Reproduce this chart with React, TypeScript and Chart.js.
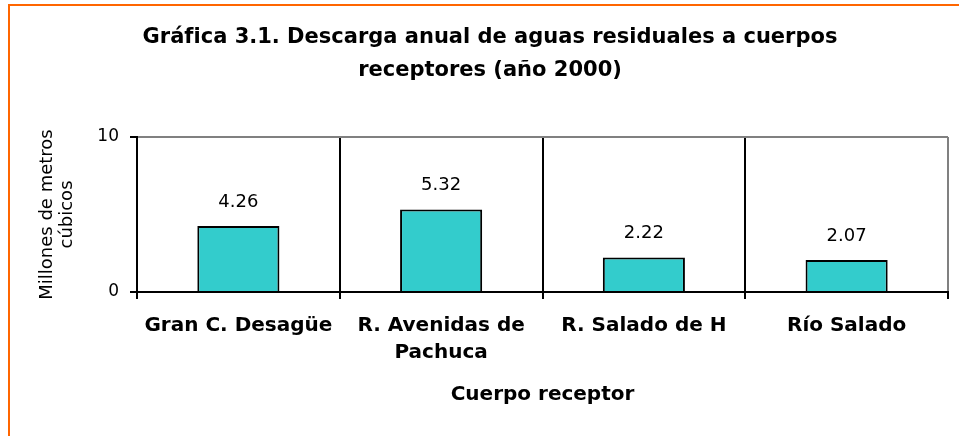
import React, { useEffect, useRef } from "react";
import { Chart, registerables } from "chart.js";

Chart.register(...registerables);

// U+200C keeps "f" and "i" as separate glyphs (no ligature), as in the reference
const TITLE = ["Gráf\u200Cica 3.1. Descarga anual de aguas residuales a cuerpos", "receptores (año 2000)"];
const CATEGORIES: (string | string[])[] = ["Gran C. Desagüe", ["R. Avenidas de", "Pachuca"], "R. Salado de H", "Río Salado"];
const VALUES = [4.26, 5.32, 2.22, 2.07];
const Y_TITLE = ["Millones de metros", "cúbicos"];
const X_TITLE = "Cuerpo receptor";
const Y_MIN = 0;
const Y_MAX = 10;
const Y_STEP = 10;

const FONT = "'DejaVu Sans', sans-serif";

const valueLabels = {
  id: "valueLabels",
  afterDatasetsDraw(chart: any) {
    const ctx = chart.ctx;
    const meta = chart.getDatasetMeta(0);
    ctx.save();
    ctx.font = `18px ${FONT}`;
    ctx.fillStyle = "#000";
    ctx.textAlign = "center";
    ctx.textBaseline = "middle";
    meta.data.forEach((bar: any, i: number) => {
      ctx.fillText(VALUES[i].toFixed(2), bar.x, bar.y - 24);
    });
    ctx.restore();
  },
};

export default function App() {
  const ref = useRef<HTMLCanvasElement | null>(null);

  useEffect(() => {
    if (!ref.current) return;
    Chart.defaults.color = "#000";
    const chart = new Chart(ref.current, {
      type: "bar",
      data: {
        labels: CATEGORIES as any,
        datasets: [
          {
            data: VALUES,
            backgroundColor: "#33CCCC",
            borderColor: "#000",
            borderWidth: 2,
            barPercentage: 0.405,
            categoryPercentage: 1,
          },
        ],
      },
      options: {
        responsive: false,
        animation: false,
        events: [],
        layout: { padding: { left: 32, right: 11, top: 0, bottom: 0 } },
        plugins: {
          legend: { display: false },
          tooltip: { enabled: false },
          title: {
            display: true,
            text: TITLE,
            color: "#000",
            font: { family: FONT, size: 21, weight: "bold", lineHeight: 33 / 21 },
            padding: { top: 21, bottom: 50 },
          },
        },
        scales: {
          x: {
            offset: true,
            grid: {
              offset: true,
              color: (c: any) => (c.type === "tick" ? "#000" : "#808080"),
              lineWidth: 2,
              tickColor: "#000",
              tickLength: 7,
              tickWidth: 2,
            },
            border: { display: true, color: "#000", width: 2 },
            ticks: {
              color: "#000",
              font: { family: FONT, size: 20, weight: "bold", lineHeight: 1.35 },
              padding: 13,
              maxRotation: 0,
              autoSkip: false,
            },
            title: {
              display: true,
              text: X_TITLE,
              color: "#000",
              font: { family: FONT, size: 20, weight: "bold", lineHeight: 1.2 },
              padding: { top: 0, bottom: 29 },
            },
            afterFit: (s: any) => {
              s.height = 144;
            },
          },
          y: {
            min: Y_MIN,
            max: Y_MAX,
            ticks: {
              stepSize: Y_STEP,
              color: "#000",
              font: { family: FONT, size: 17 },
              padding: 11,
            },
            grid: {
              color: (c: any) => (c.tick && c.tick.value === 0 ? "#000" : "#808080"),
              lineWidth: 2,
              tickColor: "#000",
              tickLength: 7,
              tickWidth: 2,
            },
            border: { display: true, color: "#000", width: 2 },
            title: {
              display: true,
              text: Y_TITLE,
              color: "#000",
              font: { family: FONT, size: 18, lineHeight: 20 / 18 },
              padding: { top: 5, bottom: 0 },
            },
            afterFit: (s: any) => {
              s.width = 105;
            },
          },
        },
      } as any,
      plugins: [valueLabels],
    });
    return () => chart.destroy();
  }, []);

  return (
    <div style={{ position: "absolute", left: 0, top: 0, width: 959, height: 436, overflow: "hidden", background: "#fff" }}>
      <div
        style={{
          position: "absolute",
          left: 8,
          top: 4,
          width: 980,
          height: 460,
          borderTop: "2px solid #FF6600",
          borderLeft: "2px solid #FF6600",
        }}
      />
      <canvas ref={ref} width={959} height={436} style={{ position: "absolute", left: 0, top: 0, display: "block" }} />
    </div>
  );
}
